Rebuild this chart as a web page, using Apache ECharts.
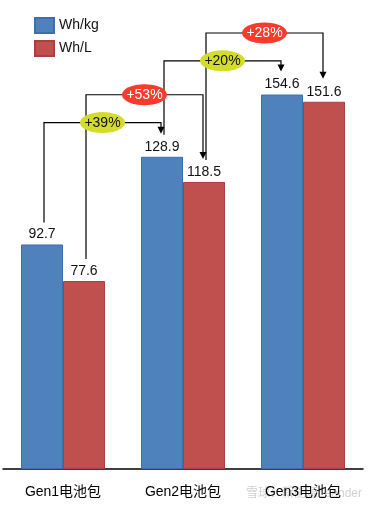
<!DOCTYPE html>
<html>
<head>
<meta charset="utf-8">
<script src="https://cdn.jsdelivr.net/npm/echarts@6/dist/echarts.min.js"></script>
<style>
html,body{margin:0;padding:0;background:#fff;}
#c{width:371px;height:512px;}
</style>
</head>
<body>
<div id="c"></div>
<script>
const categories = ['Gen1电池包', 'Gen2电池包', 'Gen3电池包'];
const seriesNames = ['Wh/kg', 'Wh/L'];
const whKg = [92.7, 128.9, 154.6];
const whL = [77.6, 118.5, 151.6];
// growth annotations: [categoryIndex, seriesIndex]
const connFrom = [[0, 0], [0, 1], [1, 0], [1, 1]];
const connTo = [[1, 0], [1, 1], [2, 0], [2, 1]];
const connLabel = ['+39%', '+53%', '+20%', '+28%'];
const connLevel = [143, 154.5, 168.5, 180];

const seriesVals = [whKg, whL];
const ellipseFill = ['#d3dc2b', '#fb3a2e', '#d3dc2b', '#fb3a2e'];
const ellipseText = ['#111', '#fff', '#111', '#fff'];
const FONT = '"Liberation Sans", "Noto Sans CJK SC", sans-serif';

const chart = echarts.init(document.getElementById('c'));

function renderConn(params, api) {
  const i = params.dataIndex;
  const band = api.size([1, 0])[0];
  const bw = band * 0.7 / 2;
  const off = s => (s === 0 ? -bw / 2 : bw / 2);
  const fc = connFrom[i], tc = connTo[i];
  const pFrom = api.coord([fc[0], seriesVals[fc[1]][fc[0]]]);
  const pTo = api.coord([tc[0], seriesVals[tc[1]][tc[0]]]);
  const pLev = api.coord([fc[0], connLevel[i]]);
  const x1 = pFrom[0] + off(fc[1]) + 2, y1 = pFrom[1] - 22;
  const x2 = pTo[0] + off(tc[1]) - 1, y2 = pTo[1] - 23;
  const yl = pLev[1];
  const cx = (x1 + x2) / 2;
  return {
    type: 'group',
    children: [
      { type: 'polyline', shape: { points: [[x1, y1], [x1, yl], [x2, yl], [x2, y2 - 6]] },
        style: { stroke: '#000', lineWidth: 1.2, fill: null } },
      { type: 'polygon', shape: { points: [[x2 - 3.5, y2 - 7], [x2 + 3.5, y2 - 7], [x2, y2]] },
        style: { fill: '#000' } },
      { type: 'circle', x: cx, y: yl, scaleX: 22.5 / 10.5, shape: { cx: 0, cy: 0, r: 10.5 },
        style: { fill: ellipseFill[i] }, z2: 5 },
      { type: 'text', x: cx, y: yl + 0.5, z2: 6,
        style: { text: connLabel[i], fill: ellipseText[i], font: '14px ' + FONT, align: 'center', verticalAlign: 'middle' } }
    ]
  };
}

const option = {
  animation: false,
  backgroundColor: '#fff',
  legend: {
    data: seriesNames,
    orient: 'vertical',
    left: 34, top: 17, padding: 0,
    itemWidth: 19, itemHeight: 15, itemGap: 6,
    icon: 'rect',
    textStyle: { fontSize: 14, color: '#111', fontFamily: FONT }
  },
  grid: { left: 3, right: 8, top: 33, bottom: 43 },
  xAxis: {
    type: 'category',
    data: categories,
    axisLine: { lineStyle: { color: '#000', width: 1.5 } },
    axisTick: { show: false },
    axisLabel: { fontSize: 14, color: '#000', margin: 16, fontFamily: FONT }
  },
  yAxis: { type: 'value', min: 0, max: 180, show: false, splitLine: { show: false } },
  series: [
    {
      name: seriesNames[0], type: 'bar', data: whKg,
      barGap: '0%', barCategoryGap: '30%',
      itemStyle: { color: '#4f81bd', borderColor: '#3d6fae', borderWidth: 1 },
      label: { show: true, position: 'top', distance: 3, fontSize: 14, color: '#111', fontFamily: FONT }
    },
    {
      name: seriesNames[1], type: 'bar', data: whL,
      itemStyle: { color: '#c0504d', borderColor: '#a9403d', borderWidth: 1 },
      label: { show: true, position: 'top', distance: 3, fontSize: 14, color: '#111', fontFamily: FONT }
    },
    {
      type: 'custom', name: 'growth',
      renderItem: renderConn,
      data: connFrom.map((f, i) => [f[0], connLevel[i]]),
      encode: { x: 0, y: 1 },
      clip: false, z: 5, silent: true
    }
  ],
  graphic: [
    { type: 'text', left: 246, top: 488, silent: true,
      style: { text: '雪球：新能源Leander', font: '12px ' + FONT, fill: 'rgba(170,170,170,0.55)' } }
  ]
};
chart.setOption(option);
</script>
</body>
</html>
